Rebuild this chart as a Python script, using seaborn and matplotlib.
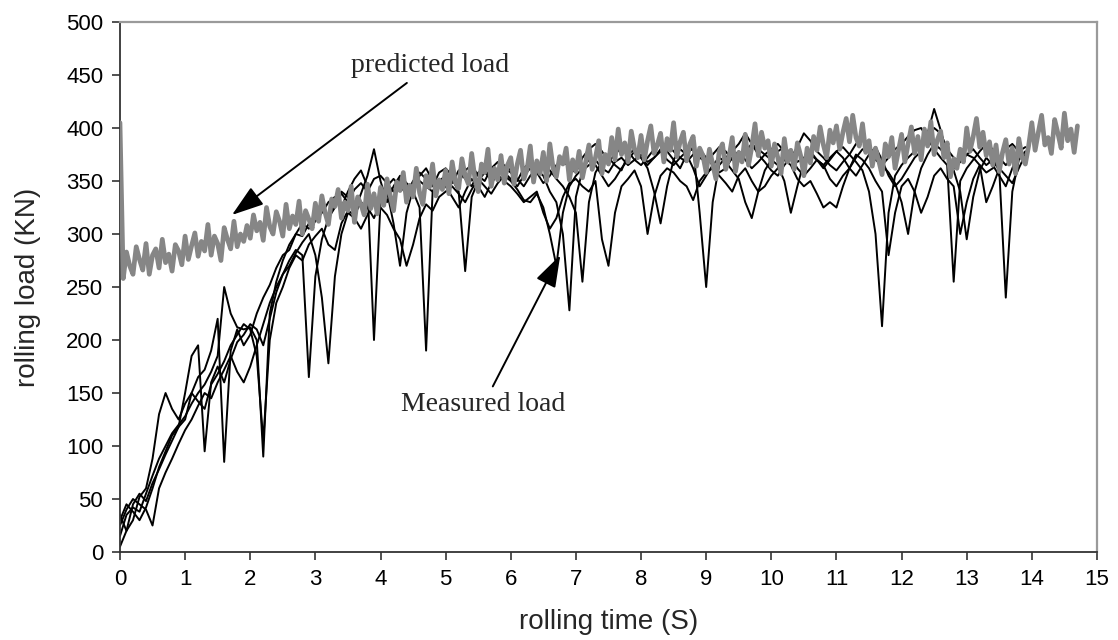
# Rolling load: measured traces vs predicted load over the rolling time

import numpy as np
import matplotlib
matplotlib.use("Agg")
import matplotlib.pyplot as plt
import seaborn as sns

# Data

# predicted load, sampled every 0.05 s from 0 to 14.7 s
predicted_load = [
    405, 258, 283, 270, 262, 288, 276, 266, 291, 262, 280, 286, 268, 295, 273, 281, 265, 290, 284, 271,
    298, 276, 289, 301, 279, 293, 284, 309, 280, 298, 291, 275, 306, 295, 286, 312, 288, 300, 293, 308,
    296, 318, 303, 311, 294, 325, 307, 300, 321, 312, 298, 328, 305, 317, 309, 331, 300, 322, 314, 305,
    329, 312, 336, 320, 309, 333, 326, 342, 315, 330, 322, 345, 311, 335, 328, 318, 347, 324, 338, 319,
    344, 327, 352, 336, 322, 349, 341, 358, 330, 346, 335, 362, 339, 328, 355, 344, 366, 336, 351, 342,
    360, 338, 368, 349, 343, 371, 355, 347, 376, 352, 340, 366, 358, 380, 345, 362, 351, 374, 348, 365,
    372, 347, 366, 379, 352, 361, 383, 349, 369, 357, 377, 350, 385, 362, 354, 373, 366, 381, 351, 370,
    359, 378, 353, 368, 384, 361, 372, 388, 357, 375, 366, 391, 370, 399, 375, 386, 368, 397, 380, 372,
    393, 370, 388, 402, 376, 384, 395, 368, 390, 379, 405, 373, 387, 396, 369, 385, 392, 364, 381, 374,
    358, 380, 366, 352, 378, 385, 361, 372, 391, 359, 377, 368, 394, 365, 382, 404, 374, 396, 381, 388,
    364, 385, 372, 357, 390, 368, 379, 361, 386, 374, 355, 381, 367, 392, 379, 401, 384, 372, 398, 386,
    402, 380, 396, 409, 387, 412, 391, 383, 404, 377, 388, 364, 381, 369, 356, 385, 373, 391, 362, 378,
    394, 368, 385, 401, 376, 392, 370, 399, 383, 406, 375, 389, 397, 372, 386, 354, 371, 362, 380, 368,
    400, 378, 392, 409, 382, 396, 374, 387, 365, 384, 359, 377, 389, 366, 381, 357, 390, 372, 366, 383,
    405, 379, 396, 412, 384, 391, 376, 408, 395, 381, 414, 388, 399, 377, 402,
]
predicted_time = np.round(np.arange(len(predicted_load)) * 0.05, 2)

# measured load, five passes, sampled every 0.1 s from 0 to 13.9 s
measured_1 = [
    15, 35, 42, 38, 55, 72, 88, 100, 112, 120,
    128, 140, 150, 158, 170, 185, 250, 225, 212, 210,
    212, 200, 90, 225, 255, 275, 290, 300, 298, 310,
    318, 325, 315, 330, 338, 330, 342, 348, 340, 352,
    355, 348, 340, 352, 345, 340, 325, 190, 340, 350,
    355, 348, 360, 352, 345, 358, 362, 350, 356, 362,
    358, 350, 362, 368, 360, 355, 340, 330, 300, 228,
    335, 360, 365, 370, 362, 358, 368, 372, 365, 370,
    375, 368, 372, 378, 370, 365, 372, 378, 380, 372,
    368, 375, 382, 378, 370, 372, 378, 385, 380, 375,
    370, 378, 382, 376, 368, 372, 378, 370, 365, 372,
    378, 382, 375, 368, 360, 340, 300, 213, 320, 355,
    365, 372, 378, 385, 392, 400, 395, 380, 372, 368,
    375, 380, 372, 365, 370, 360, 240, 340, 370, 378,
]
measured_2 = [
    30, 45, 38, 30, 42, 60, 80, 95, 110, 118,
    125, 150, 165, 172, 190, 220, 85, 190, 210, 195,
    205, 225, 240, 252, 268, 280, 285, 300, 310, 305,
    312, 320, 330, 335, 325, 340, 352, 360, 345, 200,
    330, 345, 352, 345, 338, 350, 358, 352, 345, 358,
    362, 355, 348, 360, 365, 355, 350, 362, 368, 358,
    352, 345, 355, 362, 358, 348, 355, 365, 370, 362,
    358, 372, 380, 385, 378, 368, 375, 382, 378, 370,
    365, 372, 380, 385, 378, 370, 362, 375, 382, 320,
    250, 330, 365, 372, 378, 385, 395, 385, 375, 368,
    360, 355, 365, 372, 362, 355, 362, 370, 365, 352,
    345, 355, 362, 372, 380, 378, 370, 365, 372, 380,
    385, 392, 398, 400, 390, 380, 372, 365, 255, 350,
    362, 370, 378, 385, 380, 372, 365, 372, 378, 382,
]
measured_3 = [
    5, 20, 45, 55, 48, 65, 78, 92, 105, 118,
    150, 185, 195, 95, 160, 175, 160, 182, 198, 205,
    215, 210, 195, 220, 245, 262, 275, 285, 280, 165,
    260, 295, 315, 325, 340, 335, 322, 338, 355, 380,
    350, 330, 345, 355, 348, 342, 355, 362, 350, 345,
    355, 352, 340, 265, 335, 350, 358, 352, 360, 365,
    360, 352, 345, 355, 362, 368, 360, 352, 345, 335,
    320, 255, 330, 358, 368, 372, 365, 360, 375, 380,
    372, 365, 372, 380, 385, 378, 372, 368, 375, 380,
    372, 365, 358, 362, 372, 378, 370, 362, 368, 375,
    380, 385, 378, 372, 382, 395, 388, 378, 372, 365,
    360, 368, 375, 385, 390, 382, 372, 365, 358, 348,
    330, 300, 340, 362, 375, 385, 380, 372, 362, 368,
    375, 372, 365, 358, 362, 372, 380, 385, 378, 372,
]
measured_4 = [
    25, 40, 50, 45, 40, 25, 60, 75, 88, 102,
    115, 125, 138, 150, 145, 160, 172, 185, 170, 160,
    175, 195, 215, 235, 250, 262, 270, 282, 292, 300,
    280, 240, 178, 260, 300, 320, 315, 305, 318, 330,
    325, 318, 305, 295, 270, 290, 315, 328, 322, 335,
    340, 345, 338, 330, 342, 352, 345, 338, 348, 355,
    350, 342, 332, 330, 338, 325, 300, 270, 320, 345,
    355, 362, 370, 365, 355, 345, 352, 362, 370, 378,
    372, 362, 340, 310, 345, 370, 380, 375, 362, 345,
    355, 365, 372, 368, 360, 352, 330, 315, 340, 360,
    370, 365, 350, 320, 345, 368, 375, 370, 362, 370,
    378, 372, 362, 355, 365, 375, 382, 370, 355, 345,
    352, 362, 372, 378, 395, 418, 398, 375, 360, 340,
    295, 335, 360, 372, 365, 355, 345, 362, 375, 370,
]
measured_5 = [
    35, 20, 30, 52, 60, 88, 130, 150, 135, 125,
    140, 150, 142, 135, 158, 168, 180, 195, 205, 215,
    210, 185, 105, 200, 235, 250, 268, 280, 275, 290,
    298, 305, 290, 285, 310, 322, 318, 330, 325, 315,
    330, 340, 310, 270, 320, 342, 350, 345, 340, 352,
    345, 335, 325, 340, 352, 345, 335, 348, 356, 350,
    345, 338, 330, 335, 340, 320, 305, 315, 335, 348,
    352, 345, 340, 350, 295, 270, 320, 345, 352, 360,
    345, 300, 335, 355, 362, 358, 350, 345, 332, 350,
    358, 362, 355, 348, 340, 355, 362, 350, 340, 345,
    355, 362, 370, 365, 352, 345, 350, 338, 325, 330,
    325, 345, 362, 375, 370, 362, 350, 340, 280, 320,
    345, 352, 340, 320, 335, 355, 362, 352, 345, 300,
    330, 352, 365, 330, 345, 362, 355, 348, 362, 375,
]
measured_time = np.round(np.arange(len(measured_1)) * 0.1, 1)
measured_runs = [measured_1, measured_2, measured_3, measured_4, measured_5]

x_ticks = list(range(0, 16))
y_ticks = list(range(0, 501, 50))

# Plot

sns.set_style("ticks")
plt.rcParams["font.family"] = ["Liberation Sans", "DejaVu Sans"]

fig = plt.figure(figsize=(11.18, 6.4), dpi=100)
ax = fig.add_axes([0.1073, 0.1375, 0.8739, 0.8281])

for run in measured_runs:
    sns.lineplot(x=measured_time, y=run, ax=ax, color="black", linewidth=1.4,
                 estimator=None, sort=False, zorder=2)

# dense noisy prediction, thick enough to read as a band
sns.lineplot(x=predicted_time, y=predicted_load, ax=ax, color="#868686", linewidth=3.4,
             estimator=None, sort=False, zorder=3)

ax.set_xlim(0, 15)
ax.set_ylim(0, 500)
ax.set_xticks(x_ticks)
ax.set_yticks(y_ticks)
ax.tick_params(axis="both", direction="out", length=6, width=1.2, colors="#333333",
               labelsize=16, labelcolor="black", pad=6)

for side in ["left", "bottom"]:
    ax.spines[side].set_color("#333333")
    ax.spines[side].set_linewidth(1.3)
for side in ["top", "right"]:
    ax.spines[side].set_visible(True)
    ax.spines[side].set_color("#9a9a9a")
    ax.spines[side].set_linewidth(1.6)

ax.set_xlabel("rolling time (S)", fontsize=20, labelpad=14)
ax.set_ylabel("rolling load (KN)", fontsize=20, labelpad=18)

arrow = dict(arrowstyle="-|>,head_length=0.9,head_width=0.3", color="black",
             lw=1.4, mutation_scale=22, shrinkA=2, shrinkB=0)
ax.annotate("predicted load", xy=(1.72, 318), xytext=(4.76, 459),
            ha="center", va="center", fontsize=20, family=["Liberation Serif"],
            arrowprops=arrow, zorder=5)
ax.annotate("Measured load", xy=(6.76, 280), xytext=(5.58, 139),
            ha="center", va="center", fontsize=20, family=["Liberation Serif"],
            arrowprops=arrow, zorder=5)

plt.savefig("out.png", dpi=100)
